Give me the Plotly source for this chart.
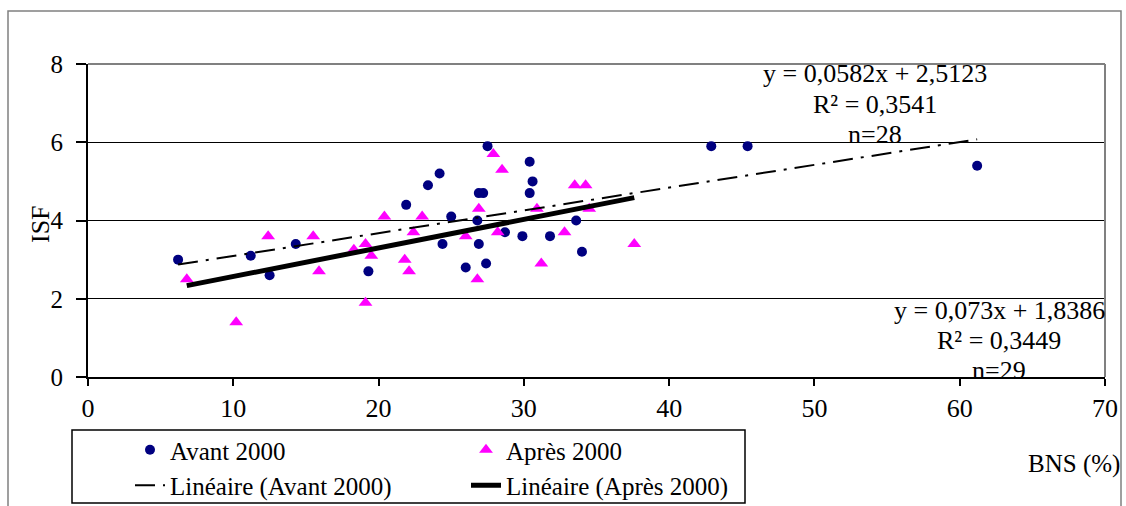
import plotly.graph_objects as go
import numpy as np

# ---- data ----
avant_x = [6.2, 11.2, 12.5, 14.3, 19.3, 21.9, 23.4, 24.2, 24.4, 25.0, 26.0, 26.8, 26.9, 26.9,
           27.2, 27.5, 27.4, 28.7, 29.9, 30.4, 30.6, 30.4, 31.8, 33.6, 34.0, 42.9, 45.4, 61.2]
avant_y = [3.0, 3.1, 2.6, 3.4, 2.7, 4.4, 4.9, 5.2, 3.4, 4.1, 2.8, 4.0, 3.4, 4.7,
           4.7, 5.9, 2.9, 3.7, 3.6, 5.5, 5.0, 4.7, 3.6, 4.0, 3.2, 5.9, 5.9, 5.4]
apres_x = [6.8, 10.2, 12.4, 15.5, 15.9, 18.3, 19.1, 19.5, 19.1, 20.4, 21.8, 22.1, 22.4, 23.0,
           26.0, 26.8, 26.9, 27.9, 28.2, 28.5, 30.9, 31.2, 32.8, 33.5, 34.25, 34.5, 37.6]
apres_y = [2.5, 1.4, 3.6, 3.6, 2.7, 3.25, 3.4, 3.1, 1.9, 4.1, 3.0, 2.7, 3.7, 4.1,
           3.6, 2.5, 4.3, 5.7, 3.7, 5.3, 4.3, 2.9, 3.7, 4.9, 4.9, 4.3, 3.4]
avant_coef = [0.0582, 2.5123]   # slope, intercept
apres_coef = [0.073, 1.8386]
eq_avant = ["y = 0,0582x + 2,5123", "R² = 0,3541", "n=28"]
eq_apres = ["y = 0,073x + 1,8386", "R² = 0,3449", "n=29"]
x_ticks = [0, 10, 20, 30, 40, 50, 60, 70]
y_ticks = [0, 2, 4, 6, 8]

FONT = "Liberation Serif, Times New Roman, serif"
W, H = 1126, 506
L, R, T, B = 88, 21, 64, 129
PW, PH = W - L - R, H - T - B


def px(xp):
    return (xp - L) / PW


def py(yp):
    return (H - B - yp) / PH


fig = go.Figure()
fig.add_trace(go.Scatter(x=avant_x, y=avant_y, mode="markers", name="Avant 2000",
                         marker=dict(symbol="circle", size=10, color="#000080"),
                         legend="legend"))
fig.add_trace(go.Scatter(x=apres_x, y=apres_y, mode="markers", name="Après 2000",
                         marker=dict(symbol="triangle-up", size=12, color="#FF00FF"),
                         legend="legend2"))
ax = np.array([min(avant_x), max(avant_x)])
fig.add_trace(go.Scatter(x=ax, y=avant_coef[0] * ax + avant_coef[1], mode="lines",
                         name="Linéaire (Avant 2000)",
                         line=dict(color="black", width=2, dash="20px,8px,3px,8px"),
                         legend="legend"))
bx = np.array([min(apres_x), max(apres_x)])
fig.add_trace(go.Scatter(x=bx, y=apres_coef[0] * bx + apres_coef[1], mode="lines",
                         name="Linéaire (Après 2000)",
                         line=dict(color="black", width=5),
                         legend="legend2"))

annotations = []
for i, t in enumerate(eq_avant):
    annotations.append(dict(x=px(875), y=py(74 + 30 * i), xref="paper", yref="paper",
                            text=t, showarrow=False, xanchor="center", yanchor="middle",
                            font=dict(family=FONT, size=26, color="black")))
for i, t in enumerate(eq_apres):
    annotations.append(dict(x=px(999), y=py(310 + 30 * i), xref="paper", yref="paper",
                            text=t, showarrow=False, xanchor="center", yanchor="middle",
                            font=dict(family=FONT, size=26, color="black")))
annotations.append(dict(x=px(40), y=py(224), xref="paper", yref="paper", text="ISF",
                        textangle=-90, showarrow=False, xanchor="center", yanchor="middle",
                        font=dict(family=FONT, size=26, color="black")))
annotations.append(dict(x=px(1074), y=py(464), xref="paper", yref="paper", text="BNS (%)",
                        showarrow=False, xanchor="center", yanchor="middle",
                        font=dict(family=FONT, size=25, color="black")))

shapes = [
    # plot area top & right border (gray)
    dict(type="line", xref="paper", yref="paper", x0=0, x1=1, y0=1, y1=1,
         line=dict(color="#808080", width=2), layer="above"),
    dict(type="line", xref="paper", yref="paper", x0=1, x1=1, y0=0, y1=1,
         line=dict(color="#808080", width=2), layer="above"),
    # legend box
    dict(type="rect", xref="paper", yref="paper", x0=px(72), x1=px(745), y0=py(503), y1=py(430),
         line=dict(color="black", width=1.5), fillcolor="rgba(0,0,0,0)"),
    # outer chart border
    dict(type="rect", xref="paper", yref="paper", x0=px(8), x1=px(1121), y0=py(512), y1=py(11),
         line=dict(color="#808080", width=1.5), fillcolor="rgba(0,0,0,0)"),
]

fig.update_layout(
    width=W, height=H,
    margin=dict(l=L, r=R, t=T, b=B, pad=0, autoexpand=False),
    paper_bgcolor="white", plot_bgcolor="white",
    font=dict(family=FONT, size=25, color="black"),
    showlegend=True,
    legend=dict(x=px(130), y=py(427), xanchor="left", yanchor="top", orientation="v",
                bgcolor="rgba(0,0,0,0)", borderwidth=0, tracegroupgap=0,
                font=dict(family=FONT, size=25, color="black")),
    legend2=dict(x=px(466), y=py(427), xanchor="left", yanchor="top", orientation="v",
                 bgcolor="rgba(0,0,0,0)", borderwidth=0, tracegroupgap=0,
                 font=dict(family=FONT, size=25, color="black")),
    annotations=annotations,
    shapes=shapes,
)
fig.update_xaxes(range=[0, 70], tickvals=x_ticks, showgrid=False, zeroline=False,
                 showline=True, linecolor="black", linewidth=2,
                 ticks="outside", ticklen=7, tickwidth=1.5, tickcolor="black",
                 automargin=False,
                 tickfont=dict(family=FONT, size=26, color="black"))
fig.update_yaxes(range=[0, 8], tickvals=y_ticks, showgrid=True, gridcolor="black", gridwidth=1,
                 zeroline=False, showline=True, linecolor="black", linewidth=2,
                 ticks="outside", ticklen=10, tickwidth=1.5, tickcolor="black",
                 ticklabelstandoff=8, automargin=False,
                 tickfont=dict(family=FONT, size=25, color="black"))

fig.write_html("out.html", config={"displayModeBar": False},
               post_script="document.body.style.margin='0';document.body.style.overflow='hidden';")
